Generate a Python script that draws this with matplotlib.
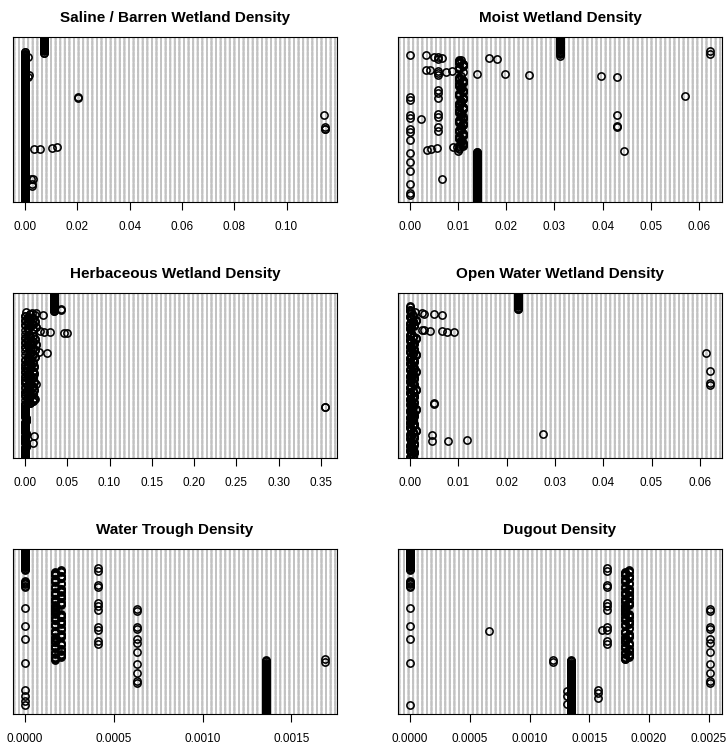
import matplotlib
matplotlib.use("Agg")
import matplotlib.pyplot as plt
import numpy as np

plt.rcParams['font.family'] = ['Liberation Sans', 'DejaVu Sans']

# every panel is a dotchart of the same 300 observations (row 1 = bottom)
N_ROWS = 300

# --- Saline / Barren -------------------------------------------------------
saline_base_vals = [0.0, 0.0071]
saline_base_counts = [270, 30]
saline_pt_rows = [273, 274, 264, 228, 232, 190, 191, 158, 137, 133, 134,
                  96, 97, 99, 100, 42, 43, 34, 30]
saline_pt_vals = [0.0, 0.0, 0.0010, 0.0013, 0.0016, 0.0201, 0.0201, 0.1145, 0.1147, 0.1147, 0.1147,
                  0.0036, 0.0058, 0.0103, 0.0124, 0.0022, 0.0029, 0.0025, 0.0026]

# --- Moist -----------------------------------------------------------------
moist_low_val = 0.0140
moist_low_count = 96
# thick column around 0.0105, six rows per value
moist_mid_vals = [0.0101, 0.0111, 0.0105, 0.0101, 0.0111, 0.0101, 0.0105, 0.0111, 0.0101,
                  0.0111, 0.0105, 0.0101, 0.0111, 0.0101, 0.0105, 0.0111, 0.0101, 0.0111,
                  0.0105, 0.0101, 0.0111, 0.0101, 0.0105, 0.0111, 0.0101, 0.0111, 0.0101]
moist_top_val = 0.0312
moist_top_count = 42
moist_pt_rows = [268, 191, 186, 158, 153, 134, 128, 113, 90, 74, 57, 34, 17, 13,
                 265, 260, 238, 235, 232, 205, 199, 189, 160, 155, 136, 130,
                 267, 264, 263, 262, 261, 275, 269, 259,
                 241, 240, 239, 237, 234, 233, 231, 230, 228,
                 193, 159, 137, 139, 93, 152, 43, 95, 96, 98, 101, 100, 94]
moist_pt_vals = [0.0] * 14 + [0.0058] * 12 + \
                [0.0033, 0.0050, 0.0066, 0.0165, 0.0180, 0.0623, 0.0623, 0.0105,
                 0.0033, 0.0042, 0.0087, 0.0075, 0.0140, 0.0198, 0.0248, 0.0397, 0.0430,
                 0.0572, 0.0429, 0.0429, 0.0429, 0.0444, 0.0023, 0.0066, 0.0035, 0.0043, 0.0056,
                 0.0090, 0.0098, 0.0100]

# --- Herbaceous ------------------------------------------------------------
herb_low_vals = [0.0, 0.0008, 0.0, 0.0015, 0.0, 0.0006, 0.0]
herb_low_counts = [20, 6, 15, 5, 20, 8, 23]
# dense middle block, two rows per value
herb_blob_vals = [0.0, 0.006, 0.003, 0.009, 0.0, 0.011, 0.003, 0.006, 0.0, 0.009,
                  0.003, 0.0, 0.006, 0.011, 0.003, 0.0, 0.009, 0.006, 0.003, 0.0,
                  0.011, 0.006, 0.0, 0.003, 0.009, 0.0, 0.006, 0.003, 0.011, 0.0,
                  0.009, 0.003, 0.006, 0.0, 0.011, 0.003, 0.0, 0.006, 0.009, 0.003,
                  0.0, 0.006,
                  0.003, 0.012, 0.0, 0.009, 0.006, 0.003, 0.0, 0.012, 0.006, 0.009,
                  0.0, 0.003, 0.013, 0.006, 0.0, 0.009, 0.003, 0.012, 0.0, 0.006,
                  0.009, 0.003, 0.0, 0.012, 0.006, 0.0, 0.009, 0.003, 0.013, 0.006,
                  0.0, 0.009, 0.003, 0.012, 0.0, 0.006, 0.009, 0.003, 0.0, 0.012,
                  0.006, 0.0]
herb_top_val = 0.034
herb_top_count = 35
herb_pt_rows = [271, 270, 266, 265, 264, 260, 231, 232, 230, 229, 228, 227,
                192, 41, 28, 93, 94, 194, 135, 107, 186]
herb_pt_vals = [0.0424, 0.0424, 0.0012, 0.0079, 0.0130, 0.0208, 0.0030, 0.0181, 0.0228, 0.0299,
                0.0464, 0.0495, 0.0259, 0.0102, 0.0094, 0.355, 0.355, 0.0169, 0.0130, 0.0120, 0.0070]

# --- Open Water ------------------------------------------------------------
# main column near zero, three rows per value
open_col_vals = [0.0, 0.0006, 0.0003, 0.0009, 0.0, 0.0006, 0.0003, 0.0, 0.0009, 0.0003,
                 0.0006, 0.0, 0.0009, 0.0003, 0.0, 0.0006, 0.0013, 0.0003, 0.0, 0.0006,
                 0.0009, 0.0, 0.0003, 0.0006, 0.0, 0.0009, 0.0003, 0.0006, 0.0, 0.0013,
                 0.0003, 0.0006, 0.0, 0.0009, 0.0003, 0.0, 0.0006, 0.0009, 0.0003, 0.0,
                 0.0006, 0.0013, 0.0, 0.0003, 0.0009, 0.0006, 0.0, 0.0003, 0.0009, 0.0,
                 0.0006, 0.0003, 0.0013, 0.0, 0.0009, 0.0006, 0.0003, 0.0, 0.0009, 0.0006,
                 0.0, 0.0003, 0.0013, 0.0006, 0.0, 0.0009, 0.0003, 0.0, 0.0006, 0.0009,
                 0.0003, 0.0, 0.0013, 0.0006, 0.0, 0.0003, 0.0009, 0.0006, 0.0, 0.0003,
                 0.0009, 0.0, 0.0006, 0.0013, 0.0003, 0.0, 0.0006, 0.0009, 0.0003, 0.0]
open_top_val = 0.0224
open_top_count = 30
open_pt_rows = [275, 276, 266, 264, 263, 262, 261, 234, 233, 232, 231, 230, 229,
                99, 100, 42, 31, 32, 34, 44, 192, 159, 136, 133]
open_pt_vals = [0.0, 0.0, 0.0010, 0.0024, 0.0028, 0.0050, 0.0066,
                0.0024, 0.0030, 0.0041, 0.0066, 0.0076, 0.0092,
                0.0050, 0.0050, 0.0046, 0.0046, 0.0078, 0.0117, 0.0276,
                0.0612, 0.0621, 0.0621, 0.0621]

# --- Water Trough / Dugout share the same row structure ---------------------
lobe_counts = [6, 5, 5, 5, 6, 4, 11, 6, 6, 6, 6, 6, 6, 6, 16, 6, 6, 6, 6, 6, 6, 6, 6, 6, 6, 4]

trough_base_vals = [0.00136] + [0.00017, 0.00020] * 13 + [0.0]
trough_base_counts = [98] + lobe_counts + [38]
trough_pt_rows = [232, 234, 236, 238, 240, 242, 193, 160, 137, 93, 44, 33, 24, 16,
                  266, 261, 235, 231, 203, 197, 190, 158, 154, 133, 128,
                  191, 187, 159, 155, 136, 130, 113, 92, 75, 60, 57,
                  101, 95]
trough_pt_vals = [0.0] * 14 + [0.00041] * 11 + [0.00063] * 11 + [0.00169, 0.00169]

dugout_base_vals = [0.00135] + [0.00180, 0.00183] * 13 + [0.0]
dugout_base_counts = [98] + lobe_counts + [38]
dugout_pt_rows = [232, 234, 236, 238, 240, 242, 193, 160, 137, 93, 16,
                  266, 261, 235, 231, 203, 197, 190, 158, 154, 133, 128,
                  191, 187, 159, 155, 136, 130, 113, 92, 75, 60, 57,
                  152, 153, 99, 95, 42, 33, 18, 44, 39, 30]
dugout_pt_vals = [0.0] * 11 + [0.00165] * 11 + [0.00251] * 11 + \
                 [0.00066, 0.00161, 0.00120, 0.00120, 0.00131, 0.00131, 0.00131,
                  0.00157, 0.00157, 0.00157]

titles = ["Saline / Barren Wetland Density", "Moist Wetland Density",
          "Herbaceous Wetland Density", "Open Water Wetland Density",
          "Water Trough Density", "Dugout Density"]

saline_ticks = [0.00, 0.02, 0.04, 0.06, 0.08, 0.10]
moist_ticks = [0.00, 0.01, 0.02, 0.03, 0.04, 0.05, 0.06]
herb_ticks = [0.00, 0.05, 0.10, 0.15, 0.20, 0.25, 0.30, 0.35]
open_ticks = [0.00, 0.01, 0.02, 0.03, 0.04, 0.05, 0.06]
trough_ticks = [0.0, 0.0005, 0.0010, 0.0015]
dugout_ticks = [0.0, 0.0005, 0.0010, 0.0015, 0.0020, 0.0025]


def expand(base_vals, base_counts, pt_rows, pt_vals):
    x = np.repeat(np.array(base_vals, dtype=float), base_counts)
    x[np.array(pt_rows) - 1] = pt_vals
    return x


moist_base_vals = [moist_low_val] + moist_mid_vals + [moist_top_val]
moist_base_counts = [moist_low_count] + [6] * len(moist_mid_vals) + [moist_top_count]
herb_base_vals = herb_low_vals + herb_blob_vals + [herb_top_val]
herb_base_counts = herb_low_counts + [2] * len(herb_blob_vals) + [herb_top_count]
open_base_vals = open_col_vals + [open_top_val]
open_base_counts = [3] * len(open_col_vals) + [open_top_count]

panels = [
    (expand(saline_base_vals, saline_base_counts, saline_pt_rows, saline_pt_vals), saline_ticks, "%.2f"),
    (expand(moist_base_vals, moist_base_counts, moist_pt_rows, moist_pt_vals), moist_ticks, "%.2f"),
    (expand(herb_base_vals, herb_base_counts, herb_pt_rows, herb_pt_vals), herb_ticks, "%.2f"),
    (expand(open_base_vals, open_base_counts, open_pt_rows, open_pt_vals), open_ticks, "%.2f"),
    (expand(trough_base_vals, trough_base_counts, trough_pt_rows, trough_pt_vals), trough_ticks, "%.4f"),
    (expand(dugout_base_vals, dugout_base_counts, dugout_pt_rows, dugout_pt_vals), dugout_ticks, "%.4f"),
]

fig = plt.figure(figsize=(7.26, 7.48), dpi=100)

W, H = 726.0, 748.0
lefts = [13, 398]
tops = [37, 293, 549]
box_w, box_h = 324, 165

for i, (title, (x, ticks, fmt)) in enumerate(zip(titles, panels)):
    l = lefts[i % 2]
    t = tops[i // 2]
    ax = fig.add_axes([l / W, 1 - (t + box_h) / H, box_w / W, box_h / H])

    y = np.arange(1, len(x) + 1)
    lo, hi = x.min(), x.max()
    pad = 0.04 * (hi - lo)
    x0, x1 = lo - pad, hi + pad

    # dotted light grey guide line for every row, as dotchart does
    ax.hlines(y, x0, x1, colors="#c2c2c2", linewidth=1.0,
              linestyles=[(0, (1.3, 2.0))], zorder=1)
    ax.plot(x, y, "o", ms=5.2, mfc="none", mec="black", mew=1.15, zorder=2)

    ax.set_xlim(x0, x1)
    ax.set_ylim(0.5, len(x) + 0.5)
    ax.set_yticks([])
    ax.set_xticks(ticks, [fmt % v for v in ticks])
    ax.tick_params(axis="x", length=6, width=0.8, pad=7.5, labelsize=8.5)
    ax.set_title(title, fontsize=11, fontweight="bold", pad=11)
    for s in ax.spines.values():
        s.set_linewidth(0.8)

fig.savefig("out.png", dpi=100)
